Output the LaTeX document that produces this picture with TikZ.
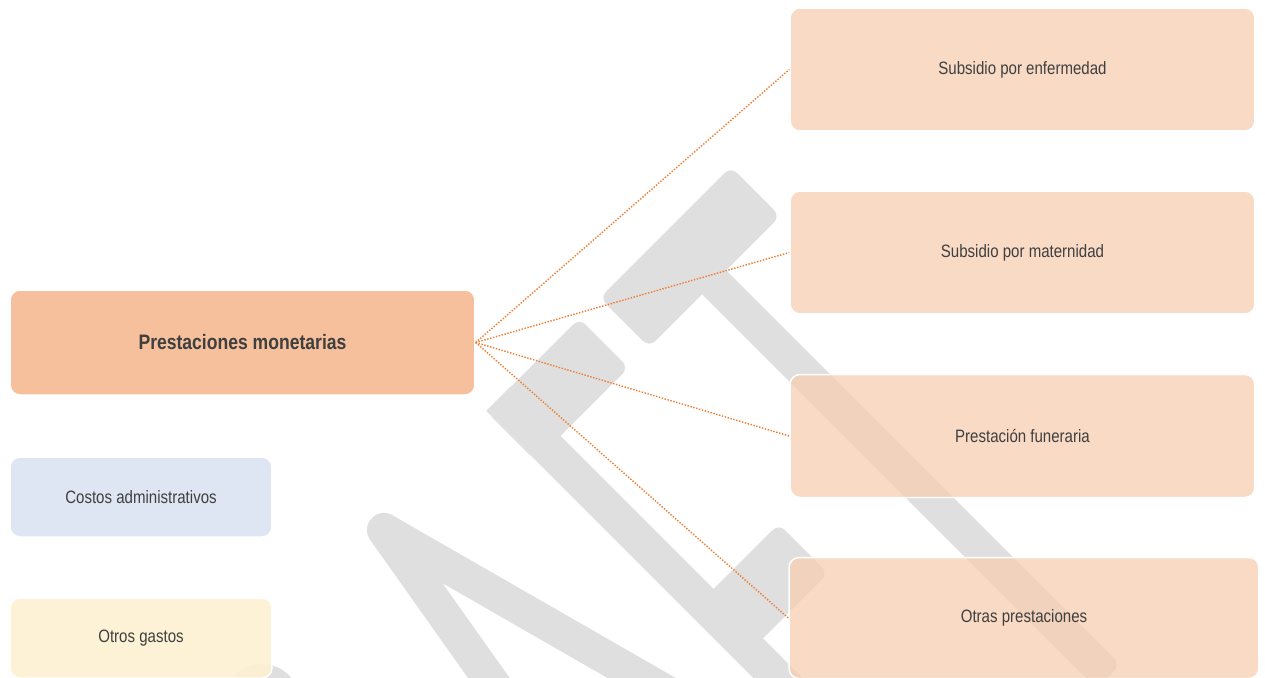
\documentclass[tikz,border=0pt]{standalone}
\usepackage{fontspec}
\setmainfont{Liberation Sans}[FakeStretch=0.84]
\definecolor{wmgray}{HTML}{DFDFDF}
\definecolor{txt}{HTML}{3F3F3F}
\definecolor{pmfill}{HTML}{F5C09B}
\definecolor{rfill}{HTML}{F7CEB2}
\definecolor{cafill}{HTML}{DEE6F3}
\definecolor{ogfill}{HTML}{FEF1D1}
\definecolor{conncol}{HTML}{ED7D31}
\begin{document}
\begin{tikzpicture}[x=0.02cm,y=-0.02cm,
  box/.style={draw=white, line width=0.85pt, rounded corners=5.7pt, text=txt, inner sep=0pt, align=center, text opacity=1},
  regtext/.style={font=\fontsize{10.2}{12}\selectfont},
  rbox/.style={box, regtext, fill=rfill, fill opacity=0.75, minimum width=9.3cm, minimum height=2.46cm},
  lbox/.style={box, regtext, minimum width=5.24cm, minimum height=1.6cm},
  wm/.style={draw=wmgray, line cap=butt},
  wmf/.style={fill=wmgray, rounded corners=5pt},
  conn/.style={draw=conncol, line width=0.8pt, dash pattern=on 0.8pt off 0.9pt}]
\useasboundingbox (0,0) rectangle (1265,677);
\clip (0,0) rectangle (1265,677);
% watermark
\fill[wmf] (730.8,166.8) -- (780.2,216.2) -- (649.2,347.2) -- (599.8,297.8) -- cycle;
\fill[wmf] (701.5,245.5) -- (1120.5,664.5) -- (1096.5,688.5) -- (677.5,269.5) -- cycle;
\fill[wmf] (579.3,318.3) -- (628.7,367.7) -- (535.7,460.7) -- (486.3,411.3) -- cycle;
\draw[wm, line width=0.7cm] (498.5,398.5) -- (850,750);
\fill[wmf] (778.8,523.8) -- (828.2,573.2) -- (750.7,650.7) -- (701.3,601.3) -- cycle;
\draw[wm, line width=0.68cm, line join=round] (520,722) -- (384,530) -- (720,723);
\fill[wmgray] (262,702) circle (0.76cm);
% boxes
\node[box, fill=pmfill, minimum width=9.3cm, minimum height=2.1cm, font=\bfseries\fontsize{11.9}{14}\selectfont] (pm) at (242.5,342.5) {Prestaciones monetarias};
\node[lbox, fill=cafill] (ca) at (141,497) {Costos administrativos};
\node[lbox, fill=ogfill, fill opacity=0.9] (og) at (141,638) {Otros gastos};
\node[rbox] (s1) at (1022.5,69.5) {Subsidio por enfermedad};
\node[rbox] (s2) at (1022.5,252.5) {Subsidio por maternidad};
\node[rbox] (s3) at (1022.5,436) {Prestación funeraria};
\node[rbox, minimum width=9.4cm, minimum height=2.42cm] (s4) at (1024,618) {Otras prestaciones};
% connectors
\draw[conn] (pm.east) -- (s1.west);
\draw[conn] (pm.east) -- (s2.west);
\draw[conn] (pm.east) -- (s3.west);
\draw[conn] (pm.east) -- (s4.west);
\end{tikzpicture}
\end{document}
